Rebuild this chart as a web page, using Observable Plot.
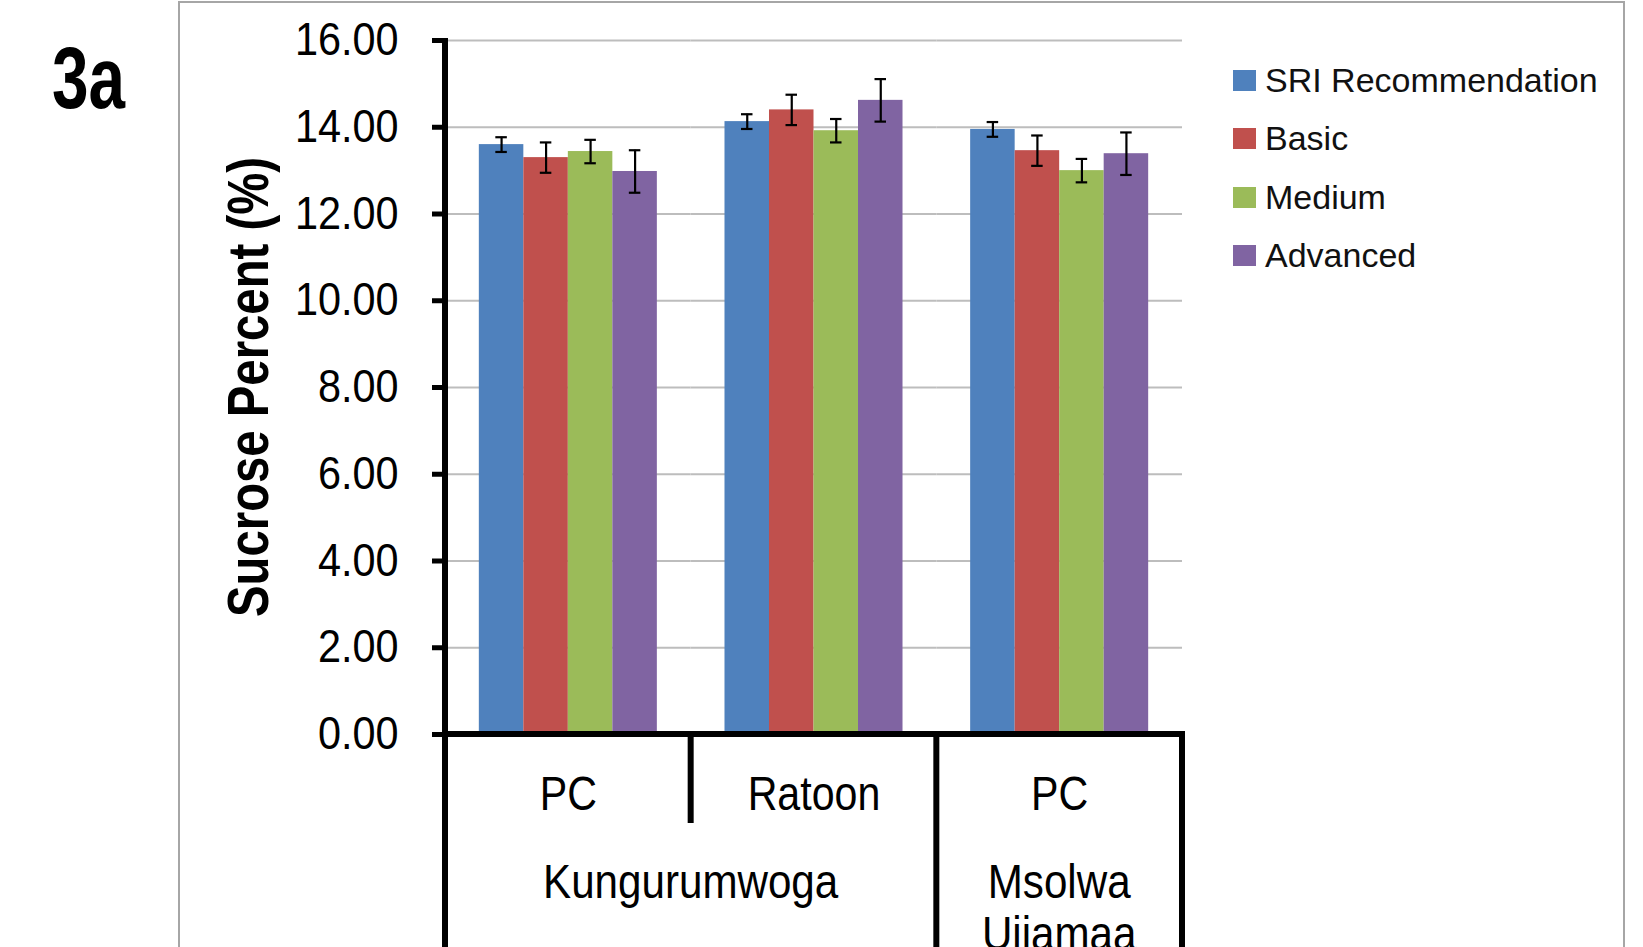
<!DOCTYPE html>
<html>
<head>
<meta charset="utf-8">
<script src="https://cdn.jsdelivr.net/npm/d3@7"></script>
<script src="https://cdn.jsdelivr.net/npm/@observablehq/plot@0.6"></script>
<style>
html, body { margin: 0; padding: 0; background: #fff; overflow: hidden; width: 1643px; height: 947px; }
#wrap { position: relative; width: 1643px; height: 947px; overflow: hidden; }
#frame { position: absolute; left: 178px; top: 1px; width: 1447px; height: 1100px; border: 2px solid #a6a6a6; box-sizing: border-box; }
#chart { position: absolute; left: 0; top: 0; }
#chart svg { overflow: visible; }
#legend { position: absolute; left: 1233px; top: 51px; font-family: "Liberation Sans", Arial, sans-serif; font-size: 34px; color: #111; }
#legend .item { display: flex; align-items: center; height: 58.5px; white-space: nowrap; }
#legend .sw { width: 23px; height: 21px; margin-right: 9px; flex: none; }
</style>
</head>
<body>
<div id="wrap"><div id="frame"></div><div id="chart"></div><div id="legend"></div></div>
<script>
// ---- data ----
const sites = ["Kungurumwoga", "Kungurumwoga", "Msolwa Ujiamaa"];
const crops = ["PC", "Ratoon", "PC"];
const treatments = ["SRI Recommendation", "Basic", "Medium", "Advanced"];
const colors = ["#4F81BD", "#C0504D", "#9BBB59", "#8064A2"];
const sriValues = [13.60, 14.13, 13.95];
const basicValues = [13.30, 14.40, 13.46];
const mediumValues = [13.44, 13.92, 13.00];
const advancedValues = [12.98, 14.62, 13.39];
const sriErrors = [0.17, 0.17, 0.17];
const basicErrors = [0.35, 0.35, 0.35];
const mediumErrors = [0.27, 0.27, 0.27];
const advancedErrors = [0.49, 0.49, 0.49];
const yTicks = [0, 2, 4, 6, 8, 10, 12, 14, 16];
const yLabel = "Sucrose Percent (%)";
const panelLabel = "3a";

// ---- table ----
const seriesValues = [sriValues, basicValues, mediumValues, advancedValues];
const seriesErrors = [sriErrors, basicErrors, mediumErrors, advancedErrors];
const groupKeys = crops.map((_, i) => String(i));
const rows = [];
treatments.forEach((t, s) => groupKeys.forEach((g, i) => rows.push({
  group: g, treatment: t, value: seriesValues[s][i], err: seriesErrors[s][i]
})));

const plot = Plot.plot({
  width: 1643,
  height: 947,
  marginTop: 40,
  marginBottom: 213,
  marginLeft: 445,
  marginRight: 461,
  style: { fontFamily: "'Liberation Sans', Arial, sans-serif", background: "transparent", overflow: "visible", color: "#000" },
  fx: { domain: groupKeys, padding: 0, round: false, label: null },
  x: { domain: treatments, paddingInner: 0, paddingOuter: 0.76, round: false, axis: null },
  y: { domain: [0, 16], label: null },
  color: { domain: treatments, range: colors },
  marks: [
    Plot.gridY({ ticks: yTicks, stroke: "#bdbdbd", strokeOpacity: 1, strokeWidth: 2 }),
    Plot.barY(rows, { fx: "group", x: "treatment", y: "value", fill: "treatment" }),
    Plot.ruleX(rows, { fx: "group", x: "treatment", y1: d => d.value - d.err, y2: d => d.value + d.err, stroke: "#000", strokeWidth: 2.2 }),
    Plot.tickY(rows, { fx: "group", x: "treatment", y: d => d.value + d.err, stroke: "#000", strokeWidth: 2.2, insetLeft: 16.5, insetRight: 16.5 }),
    Plot.tickY(rows, { fx: "group", x: "treatment", y: d => d.value - d.err, stroke: "#000", strokeWidth: 2.2, insetLeft: 16.5, insetRight: 16.5 }),
    Plot.axisY({ ticks: yTicks, tickFormat: d => d.toFixed(2), tickSize: 13, tickPadding: 34, fontSize: 46, strokeWidth: 5, label: null }),
    Plot.axisFx({ anchor: "bottom", tickFormat: g => crops[+g], tickSize: 0, tickPadding: 41, fontSize: 49, label: null })
  ]
});

document.getElementById("chart").appendChild(plot);

// ---- decorations using the plot's own scales ----
const svg = d3.select(plot);
const fxD = plot.scale("fx");
const yD = plot.scale("y");
const fx = d3.scaleBand().domain(fxD.domain).range(fxD.range)
  .paddingInner(fxD.paddingInner || 0).paddingOuter(fxD.paddingOuter || 0);
const y = d3.scaleLinear().domain(yD.domain).range(yD.range);
const step = fx.step();
const left = fx.range()[0], right = fx.range()[1];
const y0 = y(0), yTop = y(16);
const bottom = 1100;
const font = "'Liberation Sans', Arial, sans-serif";

function condense(sel, ratio) {
  sel.each(function () {
    const L = this.getComputedTextLength();
    this.setAttribute("textLength", L * ratio);
    this.setAttribute("lengthAdjust", "spacingAndGlyphs");
  });
}

// condense library axis labels slightly to match the narrow original lettering
condense(svg.selectAll('g[aria-label="y-axis tick label"] text'), 0.9);
condense(svg.selectAll('g[aria-label="fx-axis tick label"] text'), 0.84);

const deco = svg.append("g").attr("stroke", "#000").attr("stroke-width", 6).attr("fill", "none");
// y axis line
deco.append("line").attr("x1", left).attr("x2", left).attr("y1", yTop - 2).attr("y2", bottom);
// baseline
deco.append("line").attr("x1", left - 3).attr("x2", right + 3).attr("y1", y0).attr("y2", y0);
// right edge
deco.append("line").attr("x1", right).attr("x2", right).attr("y1", y0).attr("y2", bottom);
// dividers between groups
for (let i = 1; i < groupKeys.length; i++) {
  const x = fx(groupKeys[i]);
  const sameSite = sites[i] === sites[i - 1];
  deco.append("line").attr("x1", x).attr("x2", x).attr("y1", y0).attr("y2", sameSite ? y0 + 89 : bottom);
}

// site labels
const runs = [];
sites.forEach((s, i) => {
  if (runs.length && runs[runs.length - 1].site === s) runs[runs.length - 1].end = i;
  else runs.push({ site: s, start: i, end: i });
});
const siteG = svg.append("g").attr("font-family", font).attr("font-size", 49).attr("text-anchor", "middle").attr("fill", "#000");
runs.forEach(r => {
  const cx = (fx(groupKeys[r.start]) + fx(groupKeys[r.end]) + step) / 2;
  const lines = r.end > r.start ? [r.site] : r.site.split(" ");
  lines.forEach((ln, k) => {
    siteG.append("text").attr("x", cx).attr("y", y0 + 164 + k * 52).text(ln);
  });
});
condense(siteG.selectAll("text"), 0.86);

// y-axis title
svg.append("text")
  .attr("transform", `translate(268, ${(y0 + yTop) / 2}) rotate(-90)`)
  .attr("text-anchor", "middle")
  .attr("font-family", font).attr("font-weight", "bold").attr("font-size", 57)
  .attr("textLength", 460).attr("lengthAdjust", "spacingAndGlyphs")
  .attr("fill", "#000")
  .text(yLabel);

// panel label
svg.append("text")
  .attr("x", 52).attr("y", 108)
  .attr("text-anchor", "start")
  .attr("font-family", font).attr("font-weight", "bold").attr("font-size", 88)
  .attr("textLength", 73).attr("lengthAdjust", "spacingAndGlyphs")
  .attr("fill", "#000")
  .text(panelLabel);

// legend (HTML) from the color scale
const cD = plot.scale("color");
const legend = d3.select("#legend");
cD.domain.forEach((t, i) => {
  const item = legend.append("div").attr("class", "item");
  item.append("div").attr("class", "sw").style("background", cD.range[i]);
  item.append("span").text(t);
});
</script>
</body>
</html>
